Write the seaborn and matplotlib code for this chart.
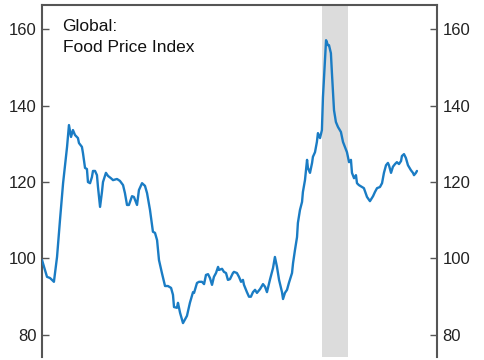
import matplotlib
matplotlib.use("Agg")
import matplotlib.pyplot as plt
import seaborn as sns
import pandas as pd

# ---------------------------------------------------------
# DATA (decimal year, index value)
# ---------------------------------------------------------
years = [
    1991.75, 1992.04, 1992.21, 1992.33, 1992.44, 1992.62, 1992.79, 1992.97, 1993.20, 1993.31,
    1993.43, 1993.54, 1993.66, 1993.83, 1993.89, 1994.06, 1994.12, 1994.24, 1994.35, 1994.41,
    1994.53, 1994.64, 1994.70, 1994.82, 1994.93, 1994.99, 1995.11, 1995.22, 1995.28, 1995.45,
    1995.57, 1995.74, 1995.86, 1996.09, 1996.26, 1996.44, 1996.55, 1996.67, 1996.78, 1996.96,
    1997.07, 1997.25, 1997.36, 1997.54, 1997.71, 1997.83, 1998.00, 1998.17, 1998.29, 1998.41,
    1998.52, 1998.69, 1998.87, 1999.04, 1999.22, 1999.33, 1999.39, 1999.56, 1999.62, 1999.74,
    1999.91, 2000.14, 2000.31, 2000.49, 2000.55, 2000.72, 2000.84, 2001.01, 2001.13, 2001.24,
    2001.36, 2001.47, 2001.59, 2001.70, 2001.82, 2001.94, 2001.99, 2002.17, 2002.28, 2002.40,
    2002.51, 2002.63, 2002.80, 2002.86, 2003.03, 2003.15, 2003.27, 2003.38, 2003.44, 2003.61,
    2003.73, 2003.84, 2003.96, 2004.08, 2004.19, 2004.37, 2004.54, 2004.66, 2004.77, 2004.94,
    2005.12, 2005.23, 2005.35, 2005.47, 2005.64, 2005.70, 2005.81, 2005.93, 2006.04, 2006.22,
    2006.28, 2006.39, 2006.51, 2006.56, 2006.68, 2006.80, 2006.85, 2006.97, 2007.09, 2007.14,
    2007.26, 2007.38, 2007.43, 2007.55, 2007.66, 2007.72, 2007.84, 2007.95, 2008.01, 2008.13,
    2008.19, 2008.30, 2008.36, 2008.47, 2008.53, 2008.65, 2008.76, 2008.88, 2009.05, 2009.17,
    2009.28, 2009.40, 2009.52, 2009.63, 2009.69, 2009.81, 2009.92, 2009.98, 2010.09, 2010.27,
    2010.38, 2010.56, 2010.73, 2010.91, 2011.02, 2011.14, 2011.31, 2011.43, 2011.54, 2011.66,
    2011.77, 2011.83, 2011.95, 2012.06, 2012.18, 2012.29, 2012.41, 2012.53, 2012.58, 2012.70,
    2012.81, 2012.93, 2013.10, 2013.22, 2013.28, 2013.39, 2013.45,
]
food_index = [
    99.6, 95.2, 94.9, 94.4, 93.9, 100.4, 110.0, 119.7, 129.2, 134.9,
    131.8, 133.6, 132.3, 131.5, 130.2, 129.2, 127.6, 123.7, 123.4, 120.0,
    119.7, 121.3, 122.9, 122.9, 121.8, 118.7, 113.5, 117.4, 120.0, 122.4,
    121.6, 121.0, 120.5, 120.8, 120.3, 119.2, 117.1, 114.0, 114.0, 116.3,
    116.1, 114.0, 117.9, 119.7, 119.0, 117.1, 112.7, 107.0, 106.7, 104.8,
    99.6, 96.2, 92.8, 92.8, 92.3, 90.5, 87.3, 87.1, 88.4, 85.8,
    83.1, 85.0, 88.4, 91.2, 91.0, 93.6, 93.9, 93.9, 93.3, 95.7,
    95.9, 94.9, 93.1, 95.2, 96.2, 97.8, 97.0, 97.3, 96.5, 96.2,
    94.4, 94.6, 96.2, 96.5, 96.2, 95.2, 93.9, 94.4, 93.1, 91.2,
    90.0, 90.0, 91.2, 91.8, 91.0, 92.0, 93.3, 92.6, 91.2, 94.4,
    97.5, 100.4, 97.8, 94.4, 91.2, 89.4, 91.0, 91.8, 93.6, 96.2,
    98.8, 102.2, 105.6, 109.3, 112.7, 114.8, 117.4, 120.5, 125.8, 123.7,
    122.4, 125.0, 126.6, 127.8, 130.5, 132.8, 131.5, 133.6, 142.2, 151.9,
    157.1, 155.8, 155.8, 153.7, 148.5, 138.8, 135.7, 134.4, 133.1, 130.5,
    129.2, 127.8, 125.2, 125.8, 122.4, 121.0, 121.8, 119.7, 119.2, 118.7,
    118.4, 116.1, 115.0, 116.3, 117.4, 118.4, 118.7, 119.7, 122.4, 124.4,
    125.0, 124.4, 122.4, 124.0, 124.7, 125.2, 124.7, 125.5, 126.8, 127.3,
    126.3, 124.4, 123.1, 122.4, 121.8, 122.4, 122.9,
]

# recession band (start, end)
recession = [2007.98, 2009.46]

x_range = [1991.75, 2014.61]
y_range = [74.2, 166.3]
y_ticks = [80, 100, 120, 140, 160]
title_text = "Global:\nFood Price Index"


def main():
    df = pd.DataFrame({"year": years, "value": food_index})

    sns.set_theme(style="white")
    plt.rcParams["font.family"] = ["Liberation Sans", "DejaVu Sans"]

    fig = plt.figure(figsize=(4.85, 3.6), dpi=100)
    ax = fig.add_axes([0.0866, 0.008, 0.8144, 0.978])

    ax.axvspan(recession[0], recession[1], color="#dcdcdc", lw=0, zorder=0)
    sns.lineplot(data=df, x="year", y="value", ax=ax, color="#1a7cc4",
                 linewidth=1.7, zorder=3)

    ax.set_xlim(*x_range)
    ax.set_ylim(*y_range)
    ax.set_yticks(y_ticks)
    ax.set_xticks([])
    ax.set_xlabel("")
    ax.set_ylabel("")

    for side in ["left", "right", "top"]:
        ax.spines[side].set_visible(True)
        ax.spines[side].set_color("#555555")
        ax.spines[side].set_linewidth(1.5)
    ax.spines["bottom"].set_visible(False)

    ax.tick_params(axis="y", which="both", direction="in", length=5, width=1,
                   color="#555555", left=True, right=True, labelleft=True,
                   labelright=True, labelsize=12, labelcolor="#222222", pad=4)

    ax.text(0.052, 0.96, title_text, transform=ax.transAxes, ha="left",
            va="top", fontsize=12.5, color="#111111", linespacing=1.45)

    fig.savefig("out.png", dpi=100)
    plt.close(fig)


if __name__ == "__main__":
    main()
